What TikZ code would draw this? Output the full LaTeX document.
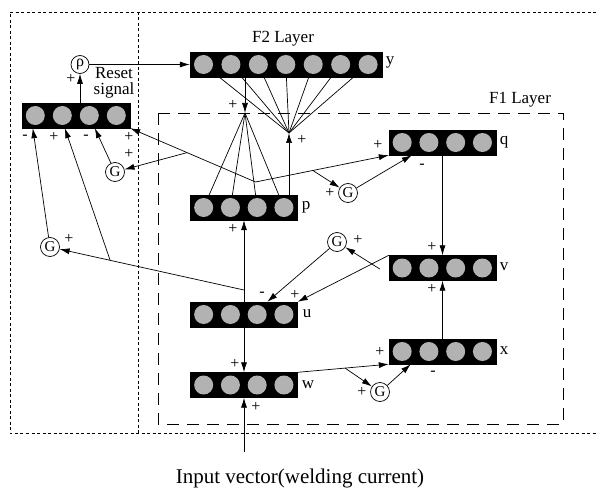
\documentclass[tikz,border=0pt]{standalone}
\usepackage{fontspec}
\setmainfont{Liberation Serif}
\usetikzlibrary{arrows.meta,calc,backgrounds}
\newcommand\cellrow[3]{% layer name, number of cells, pitch
  \foreach \i in {1,...,#2}{
    \node[cell] (#1\i) at ($(#1.west)+({#3*(\i-0.5)},0)$) {};
  }}
\begin{document}
\begin{tikzpicture}[x=1pt,y=-1pt,
  every node/.style={font=\fontsize{17}{19}\selectfont},
  layer/.style={draw=black, fill=black, minimum width=107pt, minimum height=25pt, inner sep=0pt},
  cell/.style={circle, fill=black!30, minimum size=19pt, inner sep=0pt},
  gate/.style={circle, draw, fill=white, line width=0.7pt, minimum size=19pt, inner sep=0pt,
    font=\fontsize{15}{15}\selectfont},
  conn/.style={line width=0.7pt},
  arr/.style={conn, -{Latex[length=10pt,width=6pt]}},
  sign/.style={inner sep=0pt, font=\fontsize{16}{16}\selectfont},
  outer/.style={line width=0.6pt, dash pattern=on 3pt off 2.5pt},
  inner/.style={line width=0.7pt, dash pattern=on 12pt off 8pt}
]
\useasboundingbox (0,0) rectangle (596,494);

% frames
\draw[outer] (596,12) -- (10,12) -- (10,433) -- (596,433);
\draw[outer] (138,12) -- (138,433);
\draw[inner] (158,113) rectangle (563,424);
\node at (283,39) {F2 Layer};
\node at (520,100) {F1 Layer};

% layers
\node[layer, minimum width=192pt] (ly) at (286,64.5) {};
\cellrow{ly}{7}{27.43}
\node[layer, minimum width=108pt] (lr) at (76,115.5) {};
\cellrow{lr}{4}{27}
\node[layer] (lp) at (244,207.5) {};
\cellrow{lp}{4}{26.75}
\node[layer] (lu) at (244,314.5) {};
\cellrow{lu}{4}{26.75}
\node[layer] (lw) at (244,385) {};
\cellrow{lw}{4}{26.75}
\node[layer] (lq) at (442.5,142.5) {};
\cellrow{lq}{4}{26.75}
\node[layer] (lv) at (442.5,268) {};
\cellrow{lv}{4}{26.75}
\node[layer] (lx) at (442.5,351.5) {};
\cellrow{lx}{4}{26.75}

\node at (390,62) {y};
\node at (306,207) {p};
\node at (307,314) {u};
\node at (308,385) {w};
\node at (504,142) {q};
\node at (504,267) {v};
\node at (504,351) {x};

% gain units and vigilance
\node[gate, minimum size=18pt, font=\fontsize{16}{16}\selectfont] (rho) at (80,64.5) {ρ};
\node[gate] (gr) at (115,172) {G};
\node[gate] (gl) at (50,247) {G};
\node[gate] (gq) at (348,193) {G};
\node[gate] (gm) at (337,242) {G};
\node[gate] (gx) at (380,392) {G};

\node[align=center, inner sep=0pt, font=\fontsize{17}{16}\selectfont] at (114,83) {Reset\\signal};

% junction points
\coordinate (td) at (245,113);
\coordinate (bu) at (289,133);
\coordinate (pk) at (255.5,182);
\coordinate (uk) at (244,290);
\coordinate (inp) at (244,452);
\coordinate (vo) at ($(lv.west)+(-9,1)$);

\begin{pgfonlayer}{background}
  % F2 <-> p weights
  \draw[arr] (ly.south -| td) -- (td);
  \foreach \i in {1,...,4} \draw[conn] (td) -- (lp\i.center);
  \foreach \i in {1,...,7} \draw[conn] (ly\i.center) -- (bu);
  \draw[arr] (lp.north -| bu) -- (bu);
  % reset signal
  \draw[arr] (lr.north -| rho) -- (rho.south);
  \draw[arr] (rho.east) -- (ly.west |- rho);
  % p outputs
  \draw[arr] (pk) -- (lr.south east);
  \coordinate (rb) at ($(pk)!0.546!(lr.south east)$);
  \draw[arr] (rb) -- (gr);
  \draw[arr] (gr) -- ($(lr.south west)+(73,0)$);
  \draw[arr] (pk) -- (lq.south west);
  \coordinate (pb) at ($(pk)!0.43!(lq.south west)$);
  \draw[arr] (pb) -- (gq);
  \draw[arr] (gq) -- ($(lq.south west)+(23,0)$);
  % u outputs
  \draw[arr] (lu.north) -- (lp.south);
  \draw[arr] (uk) -- (gl);
  \coordinate (ub) at ($(uk)!0.69!(gl)$);
  \draw[arr] (ub) -- ($(lr.south west)+(43,0)$);
  \draw[arr] (gl) -- ($(lr.south west)+(11,0)$);
  \draw[arr] (lu.south) -- (lw.north);
  % input
  \draw[arr] (inp) -- (lw.south);
  % w -> x
  \draw[arr] (lw.north east) -- (lx.south west);
  \coordinate (wb) at ($(lw.north east)!0.52!(lx.south west)$);
  \draw[arr] (wb) -- (gx);
  \draw[arr] (gx) -- ($(lx.south west)+(22,0)$);
  % x, q -> v
  \draw[arr] (lx.north) -- (lv.south);
  \draw[arr] (lq.south) -- (lv.north);
  % v -> u
  \draw[arr] (lv.north west) -- (lu.north east);
  \draw[arr] (vo) -- (gm);
  \draw[arr] (gm) -- ($(lu.north west)+(77,0)$);
\end{pgfonlayer}

% signs
\foreach \p/\s in {
  {71,79}/+, {25,137}/-, {54,137}/+, {86,137}/-, {129,137}/+, {129,154}/+,
  {69,239}/+, {233,105}/+, {302,140}/+, {233,229}/+, {235,364}/+, {256,407}/+,
  {330,193}/+, {378,145}/+, {422,166}/-, {358,240}/+, {432,247}/+, {432,289}/+,
  {295,295}/+, {262,294}/-, {380,352}/+, {433,373}/-, {362,392}/+}
  \node[sign] at (\p) {\s};

\node[font=\fontsize{21}{23}\selectfont] at (300,478) {Input vector(welding current)};
\end{tikzpicture}
\end{document}
